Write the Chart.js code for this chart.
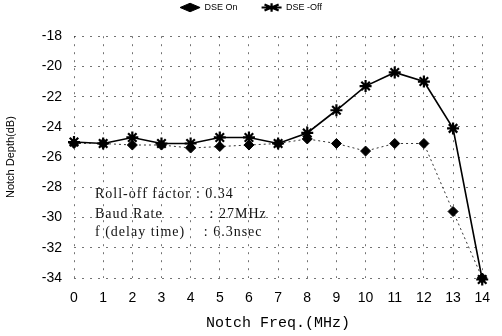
<!DOCTYPE html>
<html>
<head>
<meta charset="utf-8">
<script src="https://cdn.jsdelivr.net/npm/chart.js@4"></script>
<style>
html,body{margin:0;padding:0;background:#fff;}
#wrap{width:502px;height:336px;}
</style>
</head>
<body>
<div id="wrap"><canvas id="c" width="502" height="336"></canvas></div>
<script>
const freqs = [0,1,2,3,4,5,6,7,8,9,10,11,12,13,14];
const dseOn  = [-25.1,-25.1,-25.2,-25.2,-25.4,-25.3,-25.2,-25.1,-24.8,-25.1,-25.6,-25.1,-25.1,-29.6,-34.0];
const dseOff = [-25.0,-25.1,-24.7,-25.1,-25.1,-24.7,-24.7,-25.1,-24.4,-22.9,-21.3,-20.4,-21.0,-24.1,-34.1];
const yTicks = [-18,-20,-22,-24,-26,-28,-30,-32,-34];
const seriesNames = ['DSE On','DSE -Off'];
const noteLabels = ['Roll-off factor','Baud Rate','f (delay time)'];
const noteValues = [': 0.34',': 27MHz',': 6.3nsec'];

const notesPlugin = {
  id:'notes',
  afterDatasetsDraw(chart){
    const ctx = chart.ctx, xs = chart.scales.x, ys = chart.scales.y;
    ctx.save();
    ctx.fillStyle = '#111';
    ctx.font = '14px "Liberation Serif", serif';
    try { ctx.letterSpacing = '1px'; } catch(e) {}
    ctx.textBaseline = 'alphabetic';
    const x0 = xs.getPixelForValue(0.72);
    const colX = [xs.getPixelForValue(4.18), xs.getPixelForValue(4.65), xs.getPixelForValue(4.45)];
    const yv = [-28.72, -30.05, -31.2];
    for (let i=0;i<3;i++){
      const y = ys.getPixelForValue(yv[i]);
      ctx.fillText(noteLabels[i], x0, y);
      ctx.fillText(noteValues[i], colX[i], y);
    }
    ctx.restore();
  }
};

const gridStyle = {color:'rgba(0,0,0,0.55)', lineWidth:1, drawTicks:false};
const borderStyle = {display:false, dash:[2,6], dashOffset:0};

new Chart(document.getElementById('c'), {
  type:'line',
  data:{
    labels: freqs,
    datasets:[
      {label:seriesNames[0], data:dseOn, borderColor:'#333', backgroundColor:'#000',
       borderWidth:1, borderDash:[2,3], pointStyle:'rectRot', pointRadius:5,
       pointBorderColor:'#000', pointBackgroundColor:'#000', clip:false},
      {label:seriesNames[1], data:dseOff, borderColor:'#000', backgroundColor:'#000',
       borderWidth:1.6, pointStyle:'star', pointRadius:6, pointBorderWidth:2.2,
       pointBorderColor:'#000', clip:false}
    ]
  },
  options:{
    responsive:false,
    animation:false,
    layout:{padding:{left:0,right:0,top:-21,bottom:0}},
    plugins:{
      legend:{
        display:true, position:'top', align:'center',
        labels:{usePointStyle:true, pointStyleWidth:20, boxHeight:6, padding:24,
                color:'#000', font:{family:'"Liberation Sans", sans-serif', size:9}}
      },
      subtitle:{display:true, text:' ', weight:500, font:{size:1}, padding:{top:0,bottom:13}},
      tooltip:{enabled:false}
    },
    scales:{
      x:{
        type:'linear', min:0, max:14,
        afterFit(s){ s.height = 58; },
        grid:gridStyle,
        border:borderStyle,
        ticks:{stepSize:1, color:'#000', padding:12,
               font:{family:'"Liberation Sans", sans-serif', size:14}},
        title:{display:true, text:'Notch Freq.(MHz)', color:'#000',
               font:{family:'"Liberation Mono", monospace', size:15}, padding:{top:7}}
      },
      y:{
        min:-34, max:-18,
        afterFit(s){ s.width = 74; },
        afterBuildTicks(s){ s.ticks = yTicks.map(v=>({value:v})); },
        grid:gridStyle,
        border:borderStyle,
        ticks:{color:'#000', padding:12,
               font:{family:'"Liberation Sans", sans-serif', size:14}},
        title:{display:true, text:'Notch Depth(dB)', color:'#000',
               font:{family:'"Liberation Sans", sans-serif', size:11}, padding:{bottom:0}}
      }
    }
  },
  plugins:[notesPlugin]
});
</script>
</body>
</html>
